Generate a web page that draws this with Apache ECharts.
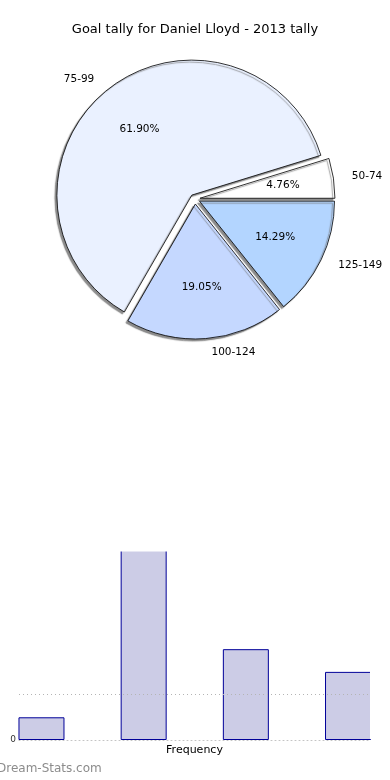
<!DOCTYPE html>
<html>
<head>
<meta charset="utf-8">
<script src="https://cdn.jsdelivr.net/npm/echarts@6/dist/echarts.min.js"></script>
<style>html,body{margin:0;padding:0;background:#fff}#c{width:390px;height:780px}</style>
</head>
<body>
<div id="c"></div>
<script>
const titleText = 'Goal tally for Daniel Lloyd - 2013 tally';
const categories = ['50-74', '75-99', '100-124', '125-149'];
const counts = [1, 13, 4, 3];
const sliceColors = ['#ffffff', '#eaf1ff', '#c5d8ff', '#b3d5ff'];
const barAxisName = 'Frequency';
const gridLineValues = [2];
const watermark = 'Dream-Stats.com';

const FONT = 'DejaVu Sans';
const R = 135;
const chart = echarts.init(document.getElementById('c'), null, {renderer: 'canvas'});

const pieData = categories.map((c, i) => ({
  name: c, value: counts[i], selected: true,
  itemStyle: {color: sliceColors[i]}
}));

chart.setOption({
  animation: false,
  title: {
    text: titleText, left: 'center', top: 23, padding: 0,
    textStyle: {fontFamily: FONT, fontSize: 13, fontWeight: 'normal', color: '#000'}
  },
  grid: {left: 19, right: 20, top: 552, bottom: 40, containLabel: false},
  xAxis: {
    type: 'value', min: -0.22, max: 3.215,
    name: barAxisName, nameLocation: 'middle', nameGap: 5,
    nameTextStyle: {fontFamily: FONT, fontSize: 11, color: '#000', verticalAlign: 'top'},
    axisLine: {show: true, lineStyle: {color: '#c4c4c4', type: [1, 3], width: 1}},
    axisTick: {show: false}, axisLabel: {show: false}, splitLine: {show: false}
  },
  yAxis: {
    type: 'value', min: 0, max: 8.28, interval: 2,
    axisLine: {show: false}, axisTick: {show: false}, splitLine: {show: false},
    axisLabel: {
      margin: 3, fontFamily: FONT, fontSize: 9, color: '#333',
      formatter: v => (v === 0 ? '0' : '')
    }
  },
  graphic: [
    {
      type: 'rect', z: 100, silent: true,
      shape: {x: 0, y: 360, width: 390, height: 191.5},
      style: {fill: '#fff'}
    },
    {
      type: 'rect', z: 100, silent: true,
      shape: {x: 370, y: 540, width: 20, height: 199},
      style: {fill: '#fff'}
    },
    {
      type: 'text', left: -3, top: 763, z: 101,
      style: {text: watermark, fontFamily: FONT, fontSize: 12, fontWeight: 'normal', fill: '#8c8c8c'}
    }
  ],
  series: [
    {
      type: 'bar',
      data: counts.map((v, i) => [i, v]),
      barWidth: 46, clip: false,
      itemStyle: {color: '#ccccE6', borderColor: '#000099', borderWidth: 1},
      markLine: {
        silent: true, symbol: 'none', label: {show: false},
        lineStyle: {color: '#b4b4b4', type: [1, 3], width: 1},
        data: gridLineValues.map(v => ({yAxis: v}))
      }
    },
    {
      type: 'pie', center: [195, 199], radius: R,
      startAngle: 0, clockwise: false,
      selectedMode: 'multiple', selectedOffset: 5,
      avoidLabelOverlap: false,
      data: pieData,
      itemStyle: {
        borderColor: '#000', borderWidth: 0.8,
        shadowColor: 'rgba(110,110,110,0.8)', shadowBlur: 1, shadowOffsetX: -2, shadowOffsetY: 2
      },
      label: {
        show: true, position: 'outside', formatter: '{b}',
        fontFamily: FONT, fontSize: 10.5, color: '#000'
      },
      labelLine: {show: false, length: R * 0.1, length2: 0},
      emphasis: {disabled: true}
    },
    {
      type: 'pie', center: [195, 199], radius: R * 1.2,
      startAngle: 0, clockwise: false,
      selectedMode: 'multiple', selectedOffset: 5,
      avoidLabelOverlap: false, silent: true,
      data: pieData.map(d => ({name: d.name, value: d.value, selected: true})),
      itemStyle: {color: 'rgba(0,0,0,0)', borderWidth: 0},
      label: {
        show: true, position: 'inside',
        formatter: p => p.percent.toFixed(2) + '%',
        fontFamily: FONT, fontSize: 10.5, color: '#000'
      },
      labelLine: {show: false},
      emphasis: {disabled: true}
    }
  ]
});
</script>
</body>
</html>
